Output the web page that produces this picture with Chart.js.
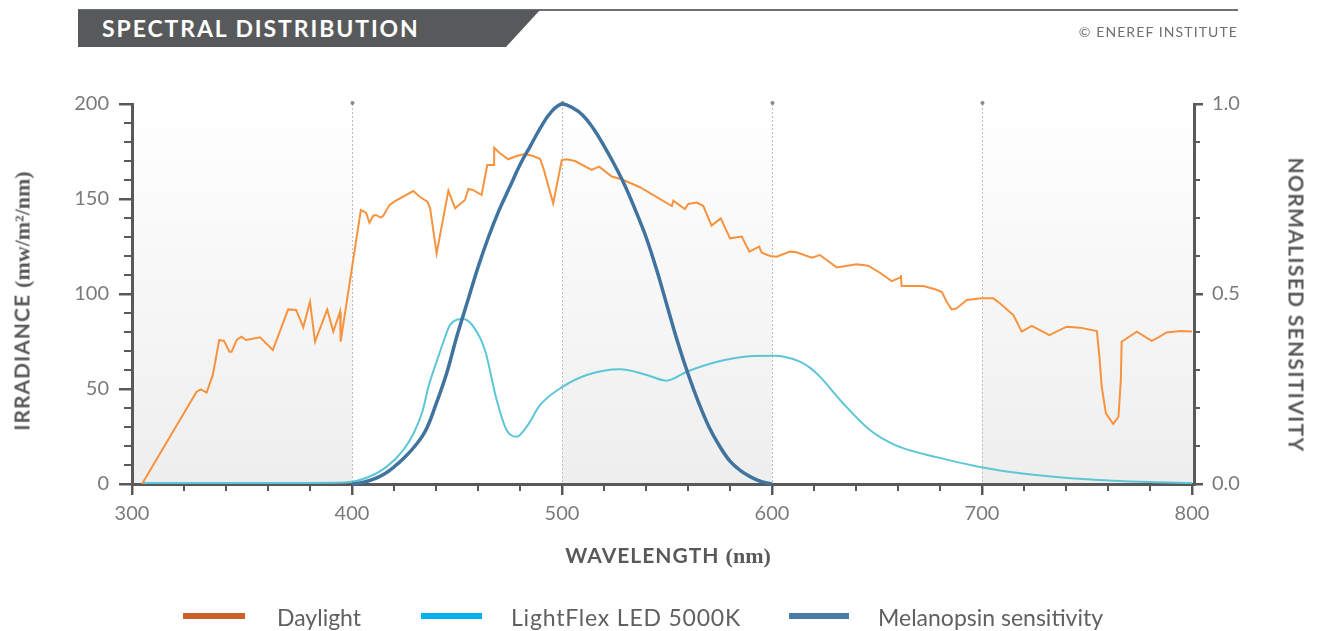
<!DOCTYPE html>
<html>
<head>
<meta charset="utf-8">
<script src="https://cdn.jsdelivr.net/npm/chart.js@4.4.1/dist/chart.umd.min.js"></script>
<style>
  body { margin: 0; background: #fff; }
  #wrap { position: relative; width: 1322px; height: 631px; overflow: hidden; font-family: Lato, "Open Sans", sans-serif; }
  #c { position: absolute; left: 0; top: 0; }
  .topline { position: absolute; left: 78px; top: 9px; width: 1160px; height: 2px; background: #707072; }
  .titlebar { position: absolute; left: 78px; top: 10px; width: 462px; height: 37px; background: #58595b;
    clip-path: polygon(0 0, 100% 0, calc(100% - 34px) 100%, 0 100%); }
  .titlebar span { position: absolute; left: 24px; top: 4px; color: #fff; font-weight: 700; font-size: 23px; letter-spacing: 1.9px; }
  .credit { position: absolute; right: 84px; top: 23px; color: #6d6e70; font-size: 14px; letter-spacing: 1.1px; }
  .axtitle { position: absolute; white-space: nowrap; color: #58595b; font-weight: 700; font-size: 21px; letter-spacing: 1px; }
  .serif { font-family: "Liberation Serif", "DejaVu Serif", serif; font-weight: 700; font-size: 22px; letter-spacing: 0; }
  .leg { position: absolute; top: 603px; color: #5f6062; font-size: 23px; }
  .legline { position: absolute; top: 613px; height: 6px; }
</style>
</head>
<body>
<div id="wrap">
  <canvas id="c" width="1322" height="631"></canvas>
  <div class="topline"></div>
  <div class="titlebar"><span>SPECTRAL DISTRIBUTION</span></div>
  <div class="credit">© ENEREF INSTITUTE</div>

  <div class="axtitle" style="left:22px; top:301px; transform: translate(-50%,-50%) rotate(-90deg);">IRRADIANCE <span class="serif">(mw/m²/nm)</span></div>
  <div class="axtitle" style="left:1297px; top:305px; letter-spacing:1.3px; transform: translate(-50%,-50%) rotate(90deg);">NORMALISED SENSITIVITY</div>
  <div class="axtitle" style="left:668px; top:555px; transform: translate(-50%,-50%);">WAVELENGTH <span class="serif">(nm)</span></div>

  <div class="legline" style="left:183px; width:62px; background:#c8622a;"></div>
  <div class="leg" style="left:277px;">Daylight</div>
  <div class="legline" style="left:421px; width:61px; background:#00b0f0;"></div>
  <div class="leg" style="left:511px; letter-spacing:0.8px;">LightFlex LED 5000K</div>
  <div class="legline" style="left:789px; width:60px; background:#4a7aa6;"></div>
  <div class="leg" style="left:878px;">Melanopsin sensitivity</div>
</div>

<script>
// tick labels
const xTicks = [300, 400, 500, 600, 700, 800];
const yTicks = [0, 50, 100, 150, 200];
const y1Ticks = [0, 0.5, 1];

// the plotted wavelength range starts a little before the 300 tick
const X_MIN = 295.24, X_MAX = 800.95;

// Daylight irradiance (mw/m2/nm)
const daylightNm = [300, 326.0, 328.0, 330.8, 333.7, 336.8, 339.1, 341.6, 342.7, 345.1, 347.4, 349.5, 356.2, 362.3,
  369.6, 373.4, 376.8, 380.0, 382.4, 388.2, 391.1, 394.3, 394.6, 404.2, 406.7, 408.3, 410.1, 411.4, 413.7, 414.9,
  417.8, 420.5, 429.2, 432.3, 435.9, 437.2, 440.3, 445.9, 449.1, 453.8, 455.4, 457.8, 461.7, 464.4, 467.7,
  467.7, 470.5, 474.4, 478.4, 482.4, 486.3, 489.6, 491.4, 495.8, 499.9, 502.2, 506.2, 514.1, 517.7, 523.7, 528.4,
  537.1, 552.3, 553.0, 558.5, 560.1, 564.2, 567.3, 571.2, 575.6, 580.0, 585.6, 589.2, 593.9, 595.1, 599.1, 602.2,
  608.6, 611.7, 618.9, 622.8, 630.8, 640.3, 645.8, 651.4, 657.0, 661.0, 661.4, 661.7, 672.1, 677.6, 680.8,
  683.2, 685.5, 687.9, 692.7, 699.9, 705.4, 708.5, 714.9, 716.8, 718.9, 723.7, 732.1, 740.3, 746.7, 754.7,
  755.9, 757.0, 759.0, 762.5, 765.0, 766.1, 766.5, 773.7, 780.8, 784.0, 787.9, 794.6, 800];
const daylightVal = [0, 48.6, 49.8, 48.1, 57.4, 75.8, 75.3, 69.6, 69.6, 75.8, 77.5, 75.8, 77.2, 70.5,
  91.9, 91.6, 82.5, 95.9, 74.9, 91.9, 80.2, 90.7, 74.9, 144.2, 142.8, 137.5, 141.2, 141.6, 140.2, 141.2,
  146.8, 148.9, 154.2, 151.2, 148.6, 145.1, 121.4, 154.4, 145.1, 149.5, 155.3, 154.7, 152.1, 167.9, 167.9,
  177, 174.1, 170.9, 172.6, 173.7, 172.6, 171, 165.3, 147.7, 170.5, 170.9, 170, 165.3, 167, 161.8, 160.4,
  156.2, 146.3, 149.1, 144.7, 147.4, 148.1, 146.3, 136, 139.8, 129.3, 130.2, 122.3, 124.9, 121.7, 120, 119.6,
  122.3, 122, 119.1, 120.5, 114, 115.6, 114.9, 111.2, 106.8, 108.6, 110, 104.2, 104.2, 102.5, 101.2,
  95.9, 91.9, 92.4, 96.8, 97.7, 97.7, 95.1, 88.9, 84.9, 80.2, 83.2, 78.4, 82.8, 82.3, 80.5,
  67, 51.2, 37.2, 31.6, 35.4, 54.7, 74.9, 80.2, 75.3, 77.2, 79.8, 80.5, 80.2];

// LightFlex LED 5000K irradiance
const ledNm = [300, 350, 396, 406.3, 416.4, 424.5, 429.5, 433.5, 436.6, 440.3, 443.6, 446.7, 453, 457.8, 463.3,
  468.9, 473.6, 478.4, 483.2, 489.6, 499.9, 511.8, 527.6, 540.4, 549.8, 559.4, 575.3, 591.1, 600.6, 613.3,
  618.3, 622.8, 633.4, 646.6, 658.7, 678.9, 699, 719.2, 749.5, 779.8, 800];
const ledVal = [0.5, 0.5, 0.8, 3, 9, 18, 27, 38, 52, 64.4, 75, 83.7, 86.8, 82.8, 70.5,
  44.2, 28.4, 24.9, 30.2, 41.6, 50.9, 57.4, 60.4, 57.4, 54.4, 59.1, 64.7, 67.4, 67.5, 64.4,
  61, 56.5, 43, 28.4, 20.5, 14, 9, 5.5, 2.5, 1, 0.5];

// Melanopsin sensitivity (normalised)
const melNm = [400, 405, 410, 415, 420, 425, 430, 435, 440, 445, 450, 455, 460, 465, 470, 475, 480, 485, 490, 495,
  500, 505, 510, 515, 520, 525, 530, 535, 540, 545, 550, 555, 560, 565, 570, 575, 580, 585, 590, 595, 600];
const melVal = [0, 0.004, 0.012, 0.025, 0.045, 0.07, 0.1, 0.14, 0.21, 0.29, 0.39, 0.48, 0.57, 0.65, 0.72, 0.78, 0.84, 0.89, 0.94, 0.98,
  1.0, 0.99, 0.97, 0.935, 0.89, 0.84, 0.785, 0.72, 0.65, 0.565, 0.47, 0.375, 0.29, 0.215, 0.15, 0.1, 0.06, 0.035, 0.018, 0.006, 0];

const bands = [[300, 400], [500, 600], [700, 800]];
const guideLines = [400, 500, 600, 700];
const AXIS = '#58595b';

function pts(xs, ys) {
  return xs.map((x, i) => ({ x: x, y: ys[i] }));
}

/* ================= PLUGINS ================= */
const backdrop = {
  id: 'backdrop',
  beforeDraw(chart) {
    const { ctx, chartArea: a, scales } = chart;
    const g = ctx.createLinearGradient(0, a.top, 0, a.bottom);
    g.addColorStop(0, '#ffffff');
    g.addColorStop(1, '#eeeeee');
    ctx.save();
    ctx.fillStyle = g;
    bands.forEach(b => {
      const x0 = b[0] === 300 ? a.left : scales.x.getPixelForValue(b[0]);
      const x1 = b[1] === 800 ? a.right : scales.x.getPixelForValue(b[1]);
      ctx.fillRect(x0, a.top, x1 - x0, a.bottom - a.top);
    });
    ctx.strokeStyle = '#bdbdbd';
    ctx.lineWidth = 1;
    ctx.setLineDash([2, 2]);
    guideLines.forEach(v => {
      const x = Math.round(scales.x.getPixelForValue(v)) + 0.5;
      ctx.beginPath();
      ctx.moveTo(x, a.top);
      ctx.lineTo(x, a.bottom);
      ctx.stroke();
    });
    ctx.setLineDash([]);
    ctx.fillStyle = '#8a8a8a';
    guideLines.forEach(v => {
      const x = Math.round(scales.x.getPixelForValue(v)) + 0.5;
      ctx.beginPath();
      ctx.arc(x, a.top - 1, 2, 0, Math.PI * 2);
      ctx.fill();
    });
    ctx.restore();
  }
};

const minorTicks = {
  id: 'minorTicks',
  afterDraw(chart) {
    const { ctx, chartArea: a, scales } = chart;
    ctx.save();
    ctx.strokeStyle = AXIS;
    ctx.lineWidth = 2;
    ctx.beginPath();
    for (let v = 300; v <= 800; v += 20) {
      if (v % 100 === 0) continue;
      const x = scales.x.getPixelForValue(v);
      ctx.moveTo(x, a.bottom);
      ctx.lineTo(x, a.bottom + 7);
    }
    for (let v = 0; v <= 200; v += 10) {
      if (v % 50 === 0) continue;
      const y = scales.y.getPixelForValue(v);
      ctx.moveTo(a.left - 8, y);
      ctx.lineTo(a.left, y);
    }
    for (let i = 0; i <= 10; i++) {
      if (i % 5 === 0) continue;
      const y = scales.y1.getPixelForValue(i / 10);
      ctx.moveTo(a.right, y);
      ctx.lineTo(a.right + 6, y);
    }
    ctx.stroke();
    ctx.restore();
  }
};

/* ================= CHART ================= */
const tickFont = { family: 'Lato', size: 20 };

function axisBase(list, tickLength, fitSize, isX) {
  return {
    // first tick sits on the axis line
    afterBuildTicks: s => { s.ticks = list.map((v, i) => ({ value: i === 0 ? s.min : v })); },
    afterFit: s => { if (isX) s.height = fitSize; else s.width = fitSize; },
    grid: { drawOnChartArea: false, drawTicks: true, tickLength: tickLength, color: AXIS, lineWidth: 2.5 },
    border: { display: true, color: AXIS, width: 3 }
  };
}

new Chart(document.getElementById('c'), {
  type: 'line',
  data: {
    datasets: [
      {
        label: 'Melanopsin sensitivity',
        data: pts(melNm, melVal),
        yAxisID: 'y1',
        borderColor: '#41739f',
        borderWidth: 3.5,
        pointRadius: 0,
        tension: 0.4,
        clip: false,
        order: 0
      },
      {
        label: 'Daylight',
        data: pts(daylightNm, daylightVal),
        yAxisID: 'y',
        borderColor: '#f7933f',
        borderWidth: 2,
        pointRadius: 0,
        tension: 0,
        clip: false,
        order: 1
      },
      {
        label: 'LightFlex LED 5000K',
        data: pts(ledNm, ledVal),
        yAxisID: 'y',
        borderColor: '#5cc6d6',
        borderWidth: 2,
        pointRadius: 0,
        cubicInterpolationMode: 'monotone',
        clip: false,
        order: 2
      }
    ]
  },
  options: {
    responsive: false,
    animation: false,
    events: [],
    layout: { padding: { top: 104, left: 0, right: 0, bottom: 0 } },
    plugins: { legend: { display: false }, tooltip: { enabled: false } },
    scales: {
      x: Object.assign(axisBase(xTicks, 11, 147, true), {
        type: 'linear', position: 'bottom', min: X_MIN, max: X_MAX,
        ticks: { font: tickFont, color: '#7a7a7a', padding: 7, callback: (v, i) => xTicks[i] }
      }),
      y: Object.assign(axisBase(yTicks, 13, 132, false), {
        type: 'linear', position: 'left', min: 0, max: 200,
        ticks: { font: tickFont, color: '#7a7a7a', padding: 10 }
      }),
      y1: Object.assign(axisBase(y1Ticks, 9, 128, false), {
        type: 'linear', position: 'right', min: 0, max: 1,
        ticks: { font: tickFont, color: '#7a7a7a', padding: 9, callback: v => v.toFixed(1) }
      })
    }
  },
  plugins: [backdrop, minorTicks]
});
</script>
</body>
</html>
